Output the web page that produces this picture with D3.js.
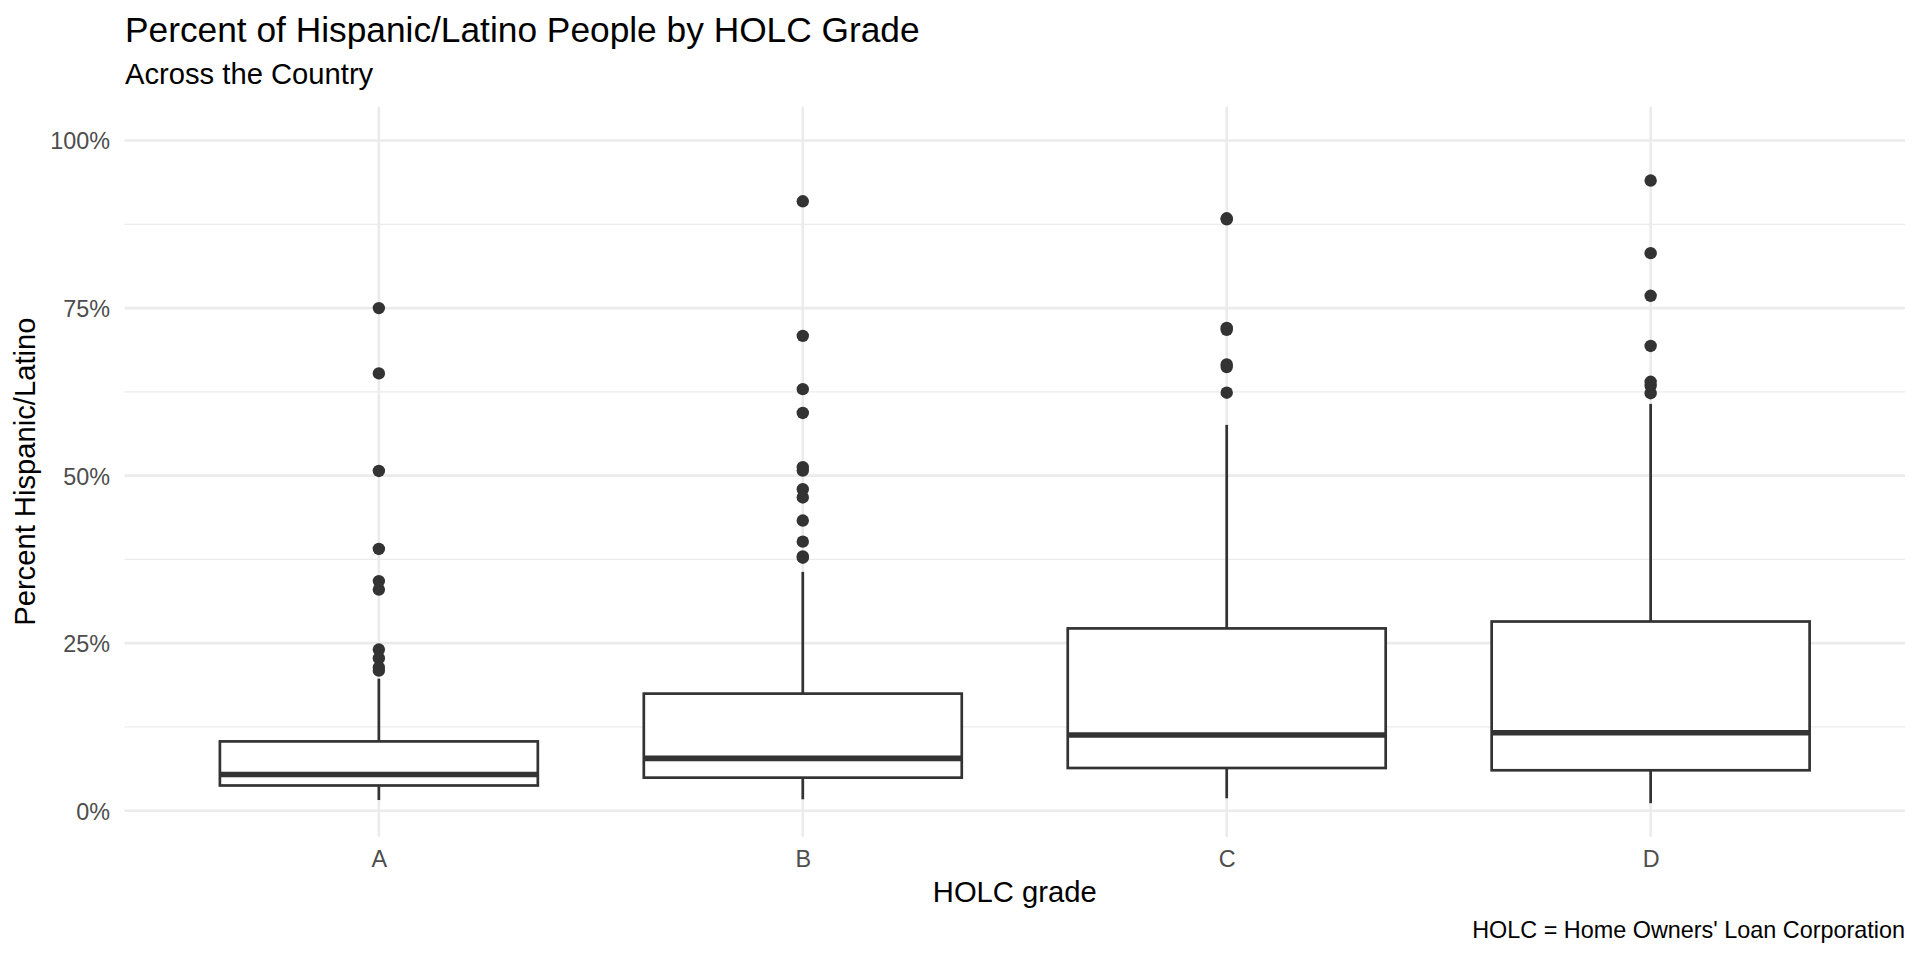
<!DOCTYPE html>
<html>
<head>
<meta charset="utf-8">
<script src="https://cdn.jsdelivr.net/npm/d3@7"></script>
<style>
  html, body { margin: 0; padding: 0; background: #ffffff; }
  svg { display: block; font-family: "Liberation Sans", Arial, Helvetica, sans-serif; }
</style>
</head>
<body>
<svg id="chart" width="1920" height="960"></svg>
<script>
// ---- data (proportions) ----
const grades = ["A", "B", "C", "D"];
const q1 = [0.0376, 0.0493, 0.0637, 0.0603];
const medians = [0.0540, 0.0780, 0.1130, 0.1164];
const q3 = [0.1034, 0.1747, 0.2720, 0.2823];
const whiskerLow = [0.0159, 0.0170, 0.0185, 0.0112];
const whiskerHigh = [0.1970, 0.3563, 0.5757, 0.6070];
const outliersA = [0.750, 0.6525, 0.507, 0.3906, 0.3426, 0.330, 0.2405, 0.2275, 0.2138, 0.209];
const outliersB = [0.9094, 0.7086, 0.629, 0.5935, 0.5126, 0.5075, 0.4798, 0.4674, 0.433, 0.4015, 0.3795, 0.3775];
const outliersC = [0.884, 0.8825, 0.7205, 0.7175, 0.666, 0.662, 0.6237];
const outliersD = [0.9403, 0.832, 0.7683, 0.6935, 0.640, 0.634, 0.623];
const yTicks = [0, 0.25, 0.5, 0.75, 1.0];
const yMinorTicks = [0.125, 0.375, 0.625, 0.875];

const titleText = "Percent of Hispanic/Latino People by HOLC Grade";
const subtitleText = "Across the Country";
const xTitle = "HOLC grade";
const yTitle = "Percent Hispanic/Latino";
const captionText = "HOLC = Home Owners' Loan Corporation";

// ---- layout ----
const panel = { left: 124.5, right: 1905, top: 106.7, bottom: 836.7 };
const dataMin = 0.0107, dataMax = 1.001;
const pad = (dataMax - dataMin) * 0.05;

const svg = d3.select("#chart");
svg.append("rect").attr("width", 1920).attr("height", 960).attr("fill", "#ffffff");

// discrete axis with 0.6-unit expansion on each side
const step = (panel.right - panel.left) / (grades.length - 1 + 1.2);
const xc = d3.scalePoint().domain(grades).range([panel.left + 0.6 * step, panel.right - 0.6 * step]);
const boxW = 0.75 * step;

const y = d3.scaleLinear().domain([dataMin - pad, dataMax + pad]).range([panel.bottom, panel.top]);

const grid = svg.append("g");
grid.selectAll("line.minor").data(yMinorTicks).join("line")
  .attr("x1", panel.left).attr("x2", panel.right)
  .attr("y1", d => y(d)).attr("y2", d => y(d))
  .attr("stroke", "#ebebeb").attr("stroke-width", 1.3);
grid.selectAll("line.major").data(yTicks).join("line")
  .attr("x1", panel.left).attr("x2", panel.right)
  .attr("y1", d => y(d)).attr("y2", d => y(d))
  .attr("stroke", "#ebebeb").attr("stroke-width", 2.6);
grid.selectAll("line.v").data(grades).join("line")
  .attr("x1", d => xc(d)).attr("x2", d => xc(d))
  .attr("y1", panel.top).attr("y2", panel.bottom)
  .attr("stroke", "#ebebeb").attr("stroke-width", 2.6);

// ---- axes (text only, ggplot minimal style) ----
const yAxis = d3.axisLeft(y).tickValues(yTicks).tickFormat(d3.format(".0%")).tickSize(0).tickPadding(0);
const yg = svg.append("g").attr("transform", `translate(${110},0)`).call(yAxis);
yg.select(".domain").remove();
yg.selectAll("text").attr("fill", "#4d4d4d").style("font-size", "23.4px")
  .style("font-family", "'Liberation Sans', Arial, sans-serif").attr("x", 0).attr("dy", "0.36em");

const xAxis = d3.axisBottom(xc).tickSize(0).tickPadding(0);
const xg = svg.append("g").attr("transform", `translate(0,${850})`).call(xAxis);
xg.select(".domain").remove();
xg.selectAll("text").attr("fill", "#4d4d4d").style("font-size", "23.4px")
  .style("font-family", "'Liberation Sans', Arial, sans-serif").attr("y", 0).attr("dy", "0.74em");

// ---- boxplots ----
const stroke = "#333333";
const boxes = grades.map((g, i) => ({
  g, q1: q1[i], med: medians[i], q3: q3[i], lo: whiskerLow[i], hi: whiskerHigh[i]
}));
const bg = svg.append("g");
bg.selectAll("line.wu").data(boxes).join("line")
  .attr("x1", d => xc(d.g)).attr("x2", d => xc(d.g))
  .attr("y1", d => y(d.q3)).attr("y2", d => y(d.hi))
  .attr("stroke", stroke).attr("stroke-width", 2.7);
bg.selectAll("line.wl").data(boxes).join("line")
  .attr("x1", d => xc(d.g)).attr("x2", d => xc(d.g))
  .attr("y1", d => y(d.q1)).attr("y2", d => y(d.lo))
  .attr("stroke", stroke).attr("stroke-width", 2.7);
bg.selectAll("rect.box").data(boxes).join("rect")
  .attr("x", d => xc(d.g) - boxW / 2).attr("width", boxW)
  .attr("y", d => y(d.q3)).attr("height", d => y(d.q1) - y(d.q3))
  .attr("fill", "#ffffff").attr("stroke", stroke).attr("stroke-width", 2.7);
bg.selectAll("line.med").data(boxes).join("line")
  .attr("x1", d => xc(d.g) - boxW / 2).attr("x2", d => xc(d.g) + boxW / 2)
  .attr("y1", d => y(d.med)).attr("y2", d => y(d.med))
  .attr("stroke", stroke).attr("stroke-width", 5.6);

const outlierSets = [outliersA, outliersB, outliersC, outliersD];
const pts = [];
outlierSets.forEach((arr, i) => arr.forEach(v => pts.push({ g: grades[i], v })));
bg.selectAll("circle.out").data(pts).join("circle")
  .attr("cx", d => xc(d.g)).attr("cy", d => y(d.v)).attr("r", 6.2)
  .attr("fill", stroke);

// ---- titles ----
svg.append("text").attr("x", 125).attr("y", 42.3).text(titleText)
  .style("font-size", "35.3px").attr("fill", "#000000");
svg.append("text").attr("x", 125).attr("y", 84).text(subtitleText)
  .style("font-size", "29.2px").attr("fill", "#000000");
svg.append("text").attr("x", (panel.left + panel.right) / 2).attr("y", 902.3)
  .attr("text-anchor", "middle").text(xTitle).style("font-size", "29.2px").attr("fill", "#000000");
svg.append("text")
  .attr("transform", `translate(35,${(panel.top + panel.bottom) / 2}) rotate(-90)`)
  .attr("text-anchor", "middle").text(yTitle).style("font-size", "29.2px").attr("fill", "#000000");
svg.append("text").attr("x", 1905).attr("y", 938).attr("text-anchor", "end")
  .text(captionText).style("font-size", "23.4px").attr("fill", "#000000");
</script>
</body>
</html>
